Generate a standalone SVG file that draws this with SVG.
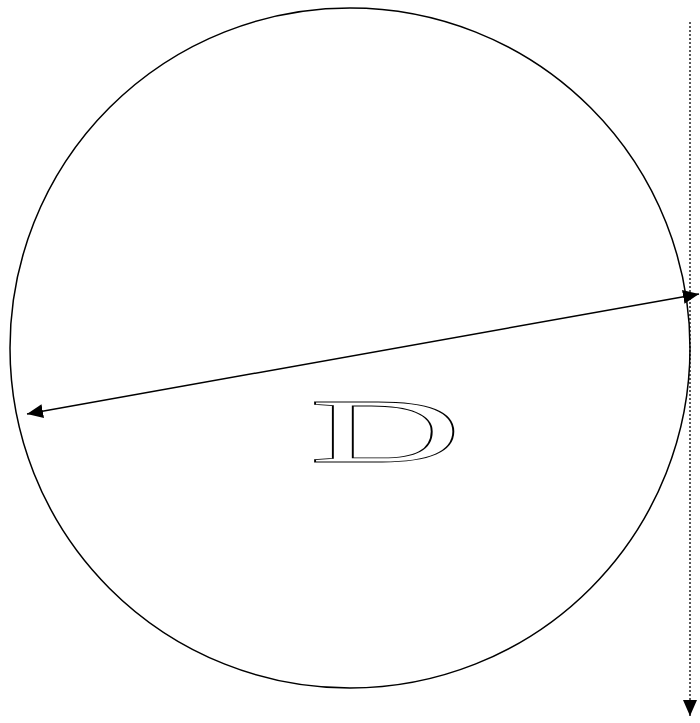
<svg xmlns="http://www.w3.org/2000/svg" width="700" height="723" viewBox="0 0 700 723">
<defs>
<style>
.ln{stroke:#000;stroke-width:1.5;fill:none}
.dot{stroke:#000;stroke-width:1.3;stroke-dasharray:2 2;fill:none}
.lbl{font-family:"Liberation Serif",serif;font-size:92px;fill:#fff;stroke:#000;stroke-width:1.5}
</style>
<marker id="ah2" viewBox="0 0 10 10" refX="10" refY="5" markerWidth="16" markerHeight="14" markerUnits="userSpaceOnUse" orient="auto-start-reverse" preserveAspectRatio="none">
<path d="M0,0 L10,5 L0,10 Z" fill="#000"/>
</marker>
</defs>
<rect width="700" height="723" fill="#fff"/>
<g id="circle">
<circle cx="350" cy="348" r="340" class="ln"/>
</g>
<g id="label">
<text class="lbl" transform="translate(309,462) scale(2.3,1)" x="0" y="0" style="vector-effect:non-scaling-stroke">D</text>
</g>
<g id="connectors">
<line x1="27" y1="414" x2="699" y2="294" class="ln" marker-start="url(#ah2)" marker-end="url(#ah2)"/>
<line x1="690" y1="22" x2="690" y2="716" class="dot" marker-end="url(#ah2)"/>
</g>
</svg>
